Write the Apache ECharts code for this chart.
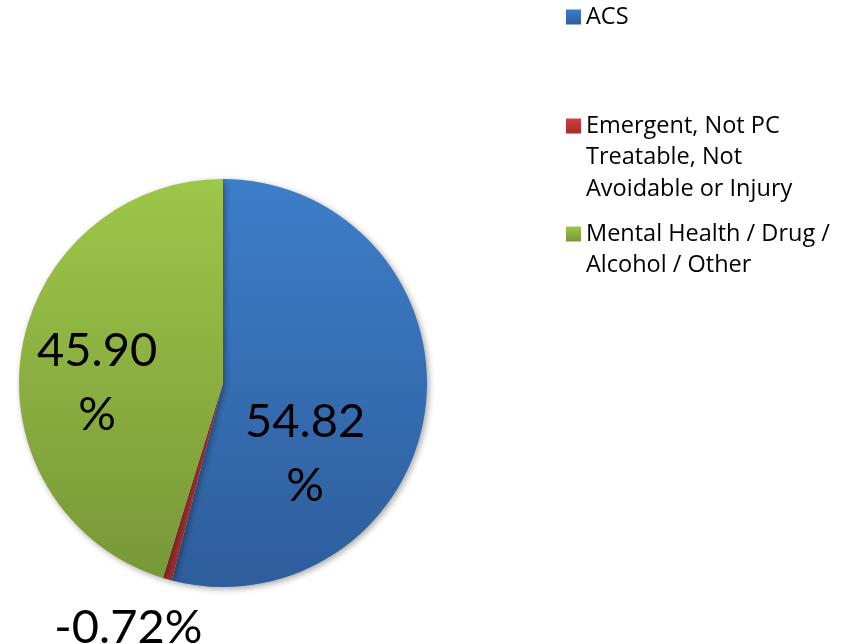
<!DOCTYPE html>
<html>
<head>
<meta charset="utf-8">
<script src="https://cdn.jsdelivr.net/npm/echarts@6/dist/echarts.min.js"></script>
<style>
  html, body { margin: 0; padding: 0; background: #fff; }
  #chart { width: 850px; height: 644px; }
</style>
</head>
<body>
<div id="chart"></div>
<script>
const categories = ["ACS", "Emergent, Not PC Treatable, Not Avoidable or Injury", "Mental Health / Drug / Alcohol / Other"];
const legendLines = ["ACS", "Emergent, Not PC\nTreatable, Not\nAvoidable or Injury", "Mental Health / Drug /\nAlcohol / Other"];
const values = [54.82, -0.72, 45.90];

const chart = echarts.init(document.getElementById("chart"));

const grad = (top, bottom) =>
  new echarts.graphic.LinearGradient(0, 0, 0, 1, [
    { offset: 0, color: top },
    { offset: 1, color: bottom },
  ]);
const colors = [grad("#3d7ec9", "#2e5d9b"), grad("#c43c3c", "#9c2c2c"), grad("#9ec649", "#789838")];
const iconColors = [grad("#3d7ec9", "#2e5d9b"), grad("#d24040", "#a02c2c"), grad("#9ec649", "#789838")];

// label nudges from the default "inside" spot
const labelShift = [
  { dx: -22, dy: 58 },
  { dx: -66, dy: 144 },
  { dx: -22, dy: 15 },
];

const legendText = { fontFamily: "Open Sans", fontSize: 23.5, color: "#000", lineHeight: 31.5 };
// icon centre y of each legend entry
const legendIconY = [17, 126, 234];

const legends = categories.map((name, i) => {
  const n = legendLines[i].split("\n").length;
  // blank lines on top so the first text line sits level with the icon
  const text = Array(n - 1).fill(" ").concat(legendLines[i].split("\n")).join("\n");
  const blockH = (2 * n - 1) * 31.5;
  return {
    orient: "vertical",
    left: 566,
    top: legendIconY[i] - blockH / 2,
    padding: 0,
    icon: "rect",
    itemWidth: 15,
    itemHeight: 15,
    selectedMode: false,
    data: [{ name: name, itemStyle: { color: iconColors[i] } }],
    formatter: () => text,
    textStyle: legendText,
  };
});

const option = {
  animation: false,
  legend: legends,
  series: [
    {
      type: "pie",
      center: [223, 383],
      radius: 204,
      startAngle: 90,
      clockwise: true,
      itemStyle: {
        shadowBlur: 6,
        shadowColor: "rgba(0,0,0,0.35)",
        shadowOffsetX: 2,
        shadowOffsetY: 2,
      },
      label: {
        show: true,
        position: "inside",
        fontFamily: "Lato",
        fontSize: 47,
        lineHeight: 64,
        color: "#000",
        formatter: (p) => {
          const v = values[p.dataIndex];
          return Math.abs(v) >= 10 ? v.toFixed(2) + "\n%" : v.toFixed(2) + "%";
        },
      },
      labelLine: { show: false },
      labelLayout: (p) => labelShift[p.dataIndex],
      data: categories.map((name, i) => ({
        name: name,
        value: Math.abs(values[i]),
        itemStyle: { color: colors[i] },
      })),
    },
  ],
};

chart.setOption(option);
</script>
</body>
</html>
